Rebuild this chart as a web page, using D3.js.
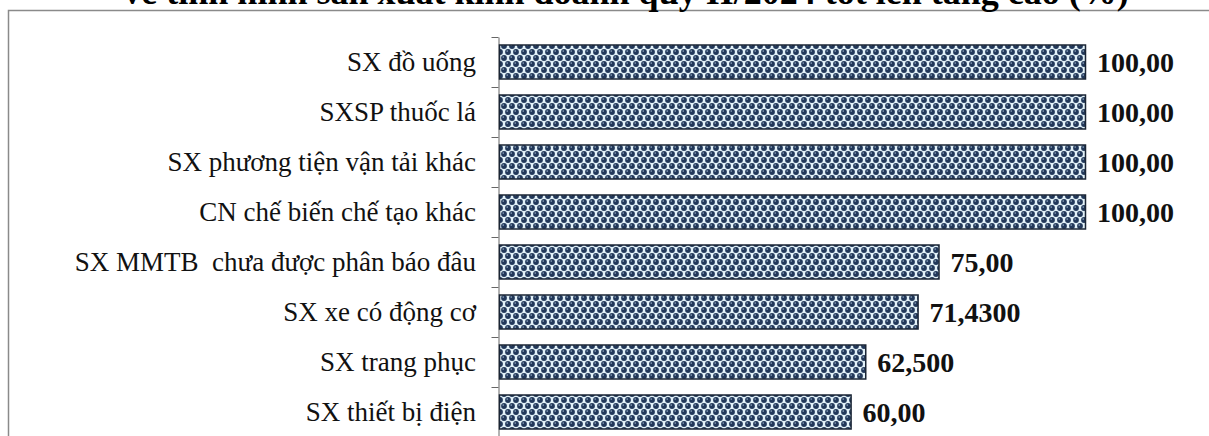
<!DOCTYPE html>
<html>
<head>
<meta charset="utf-8">
<script src="https://cdn.jsdelivr.net/npm/d3@7"></script>
<style>
  body { margin: 0; background: #fff; }
  svg { display: block; }
  text { font-family: "Liberation Serif", "Times New Roman", serif; white-space: pre; }
</style>
</head>
<body>
<div id="chart"></div>
<script>
// rows, top to bottom
const categories = [
    "SX đồ uống",
    "SXSP thuốc lá",
    "SX phương tiện vận tải khác",
    "CN chế biến chế tạo khác",
    "SX MMTB  chưa được phân báo đâu",
    "SX xe có động cơ",
    "SX trang phục",
    "SX thiết bị điện"
];
const values = [100, 100, 100, 100, 75, 71.43, 62.5, 60];
const valueLabels = ["100,00", "100,00", "100,00", "100,00", "75,00", "71,4300", "62,500", "60,00"];
const title = "về tình hình sản xuất kinh doanh quý II/2024 tốt lên tăng cao (%)";

let width = 1209,
    height = 436,
    margin = { top: 37, right: 124, bottom: -1, left: 499 };

const data = categories.map((c, i) => ({ cat: c, value: values[i], label: valueLabels[i] }));

const svg = d3
    .select("#chart")
    .append("svg")
    .attr("width", width)
    .attr("height", height);

// dotted fill like the excel pattern: rows of balls, every other row shifted
const defs = svg.append("defs");
const pat = defs
    .append("pattern")
    .attr("id", "dots")
    .attr("patternUnits", "userSpaceOnUse")
    .attr("width", 8)
    .attr("height", 12)
    .attr("y", 1);
pat.append("rect").attr("width", 8).attr("height", 12).attr("fill", "#e2f1f8");
const balls = [[4, 3], [0, 9], [8, 9]];
pat.selectAll("circle.ball")
    .data(balls)
    .join("circle")
    .attr("class", "ball")
    .attr("cx", (d) => d[0])
    .attr("cy", (d) => d[1])
    .attr("r", 2.9)
    .attr("fill", "#22385a");
pat.selectAll("circle.shine")
    .data(balls)
    .join("circle")
    .attr("class", "shine")
    .attr("cx", (d) => d[0] - 0.8)
    .attr("cy", (d) => d[1] - 0.9)
    .attr("r", 0.8)
    .attr("fill", "#8fa6bf");

// outer frame (cut by the picture edges)
svg.append("rect")
    .attr("x", 8.5)
    .attr("y", 10.5)
    .attr("width", 1220)
    .attr("height", 440)
    .attr("fill", "none")
    .attr("stroke", "#8a8a8a")
    .attr("stroke-width", 1.5);

// title, only its lower part shows
svg.append("text")
    .attr("x", 626)
    .attr("y", 4)
    .attr("text-anchor", "middle")
    .style("font-size", "36px")
    .style("font-weight", "bold")
    .text(title);

let x = d3
    .scaleLinear()
    .domain([0, 100])
    .range([margin.left, 1085]);

let y = d3
    .scaleBand()
    .domain(categories)
    .range([margin.top, height - margin.bottom])
    .paddingInner(0.32)
    .paddingOuter(0.16);

// category axis
const axis = svg.append("g")
    .attr("class", "y-axis")
    .attr("transform", `translate(${margin.left - 0.5},0)`)
    .call(d3.axisLeft(y).tickSize(0).tickFormat(""));
axis.select(".domain").attr("stroke", "#666").attr("stroke-width", 1);

const edges = categories.map((c) => y(c) - (y.step() * y.paddingInner()) / 2);
axis.selectAll("line.edge")
    .data(edges)
    .join("line")
    .attr("class", "edge")
    .attr("x1", -7)
    .attr("x2", 0)
    .attr("y1", (d) => Math.round(d) + 0.5)
    .attr("y2", (d) => Math.round(d) + 0.5)
    .attr("stroke", "#666");

svg.append("g")
    .selectAll("text")
    .data(data)
    .join("text")
    .attr("x", 476)
    .attr("y", (d) => y(d.cat) + y.bandwidth() / 2)
    .attr("dy", "0.35em")
    .attr("text-anchor", "end")
    .style("font-size", "27px")
    .style("fill", "#111")
    .text((d) => d.cat);

// bars
svg.append("g")
    .selectAll("rect")
    .data(data)
    .join("rect")
    .attr("x", x(0) + 0.5)
    .attr("y", (d) => y(d.cat))
    .attr("width", (d) => x(d.value) - x(0))
    .attr("height", y.bandwidth())
    .attr("fill", "url(#dots)")
    .attr("stroke", "#1a2535")
    .attr("stroke-width", 1.5);

// value labels
svg.append("g")
    .selectAll("text")
    .data(data)
    .join("text")
    .attr("x", (d) => x(d.value) + 12)
    .attr("y", (d) => y(d.cat) + y.bandwidth() / 2)
    .attr("dy", "0.35em")
    .style("font-size", "28px")
    .style("font-weight", "bold")
    .style("fill", "#111")
    .text((d) => d.label);
</script>
</body>
</html>
